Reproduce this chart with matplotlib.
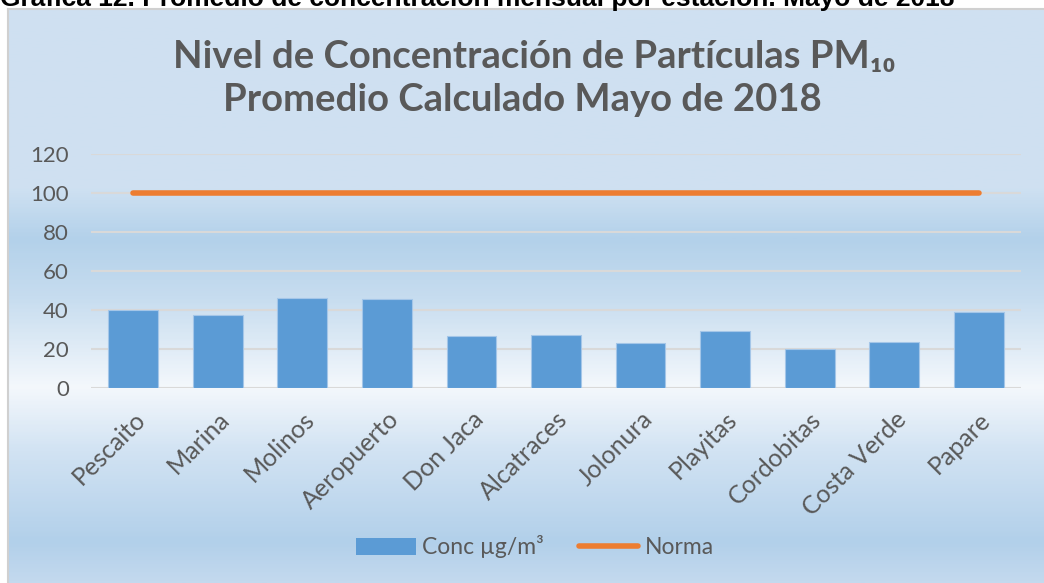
import matplotlib
matplotlib.use('agg')
import matplotlib.pyplot as plt
import numpy as np
from matplotlib.colors import LinearSegmentedColormap
from matplotlib.patches import Patch
from matplotlib.lines import Line2D

estaciones = ['Pescaito', 'Marina', 'Molinos', 'Aeropuerto', 'Don Jaca', 'Alcatraces',
              'Jolonura', 'Playitas', 'Cordobitas', 'Costa Verde', 'Papare']
conc = [39.8, 37.5, 46.2, 45.7, 26.7, 27.2, 23.3, 29.1, 19.9, 23.5, 38.9]
norma = [100] * len(estaciones)
yticks = [0, 20, 40, 60, 80, 100, 120]

plt.rcParams['font.family'] = ['Lato', 'DejaVu Sans']
gris = '#595959'

fig = plt.figure(figsize=(10.44, 5.83), dpi=100)
W, H = 1044, 583

# gradient background of the chart box (Excel style)
bg = fig.add_axes([8 / W, 0, 1 - 8 / W, 1 - 9 / H])
stops = [(0.0, '#cfe0f1'), (0.31, '#cfe1f2'), (0.40, '#b3d1ea'), (0.50, '#c6dcef'),
         (0.66, '#f4f8fc'), (0.77, '#d2e3f3'), (0.93, '#b2d0ea'), (1.0, '#c3d9ee')]
cmap = LinearSegmentedColormap.from_list('fondo', stops)
grad = np.linspace(0, 1, 400).reshape(-1, 1)
bg.imshow(grad, aspect='auto', cmap=cmap, extent=[0, 1, 0, 1], origin='upper')
bg.set_xlim(0, 1)
bg.set_ylim(0, 1)
bg.axis('off')
fig.add_artist(Line2D([8 / W, 8 / W], [0, 1 - 9 / H], color='#d0d0d0', lw=1.5))
fig.add_artist(Line2D([8 / W, 1], [1 - 9 / H, 1 - 9 / H], color='#d0d0d0', lw=1.5))

# caption above the chart (the source image cuts it at the top)
fig.text(0.0, 1 - 6 / H, 'Gráfica 12. Promedio de concentración mensual por estación. Mayo de 2018',
         fontsize=19, fontweight='bold', color='black', family=['Liberation Sans', 'DejaVu Sans'],
         ha='left', va='baseline')

ax = fig.add_axes([91 / W, 1 - 388 / H, 930 / W, 234 / H])
ax.patch.set_alpha(0)
x = np.arange(len(estaciones))
ax.bar(x, conc, width=0.59, color='#5b9bd5', edgecolor='#a4c6e8', linewidth=0.8, zorder=3)
ax.plot(x, norma, color='#ed7d31', lw=4, solid_capstyle='round', zorder=4)

ax.set_xlim(-0.5, len(estaciones) - 0.5)
ax.set_ylim(0, 120)
ax.set_yticks(yticks)
ax.grid(axis='y', color='#d9d9d9', lw=1.5, zorder=0)
for s in ax.spines.values():
    s.set_visible(False)
ax.tick_params(length=0, colors=gris, labelsize=16)
ax.tick_params(axis='y', pad=16)
ax.set_xticks(x)
ax.set_xticklabels(estaciones, rotation=45, ha='right', rotation_mode='anchor', fontsize=18, color=gris)
ax.tick_params(axis='x', pad=14)

fig.text(0.512, 1 - 57 / H, 'Nivel de Concentración de Partículas PM₁₀', fontsize=27.5, fontweight='bold',
         color=gris, ha='center', va='center')
fig.text(0.5, 1 - 100 / H, 'Promedio Calculado Mayo de 2018', fontsize=27.5, fontweight='bold',
         color=gris, ha='center', va='center')

handles = [Patch(facecolor='#5b9bd5', edgecolor='none'),
           Line2D([0], [0], color='#ed7d31', lw=4, solid_capstyle='round')]
fig.legend(handles, ['Conc µg/m³', 'Norma'], loc='center', bbox_to_anchor=(535 / W, 1 - 547 / H),
           ncol=2, frameon=False, fontsize=16.5, labelcolor=gris, handlelength=2.6,
           handletextpad=0.3, columnspacing=1.5)

fig.savefig('out.png', dpi=100)
